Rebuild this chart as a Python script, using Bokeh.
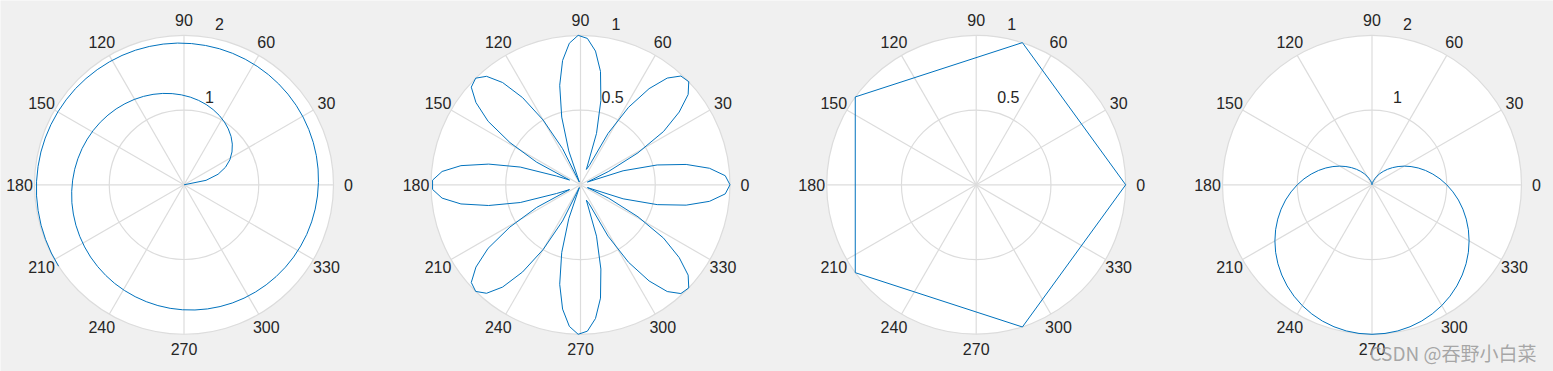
import numpy as np
from bokeh.plotting import figure
from bokeh.models import Range1d
from bokeh.core.properties import value
from bokeh.embed import file_html
from bokeh.resources import INLINE

# ---------------- data ----------------
theta_ticks = [0, 30, 60, 90, 120, 150, 180, 210, 240, 270, 300, 330]
theta_labels = ["0", "30", "60", "90", "120", "150", "180", "210", "240", "270", "300", "330"]

# panel 1: spiral (angle in degrees, cumulative over 1.6 turns)
spiral_theta = [5.7, 11.5, 17.2, 22.9, 28.6, 34.4, 40.1, 45.8, 51.6, 57.3,
                63.0, 68.8, 74.5, 80.2, 85.9, 91.7, 97.4, 103.1, 108.9, 114.6,
                120.3, 126.1, 131.8, 137.5, 143.2, 149.0, 154.7, 160.4, 166.2, 171.9,
                177.6, 183.3, 189.1, 194.8, 200.5, 206.3, 212.0, 217.7, 223.5, 229.2,
                234.9, 240.6, 246.4, 252.1, 257.8, 263.6, 269.3, 275.0, 280.7, 286.5,
                292.2, 297.9, 303.7, 309.4, 315.1, 320.9, 326.6, 332.3, 338.0, 343.8,
                349.5, 355.2, 361.0, 366.7, 372.4, 378.2, 383.9, 389.6, 395.3, 401.1,
                406.8, 412.5, 418.3, 424.0, 429.7, 435.4, 441.2, 446.9, 452.6, 458.4,
                464.1, 469.8, 475.6, 481.3, 487.0, 492.7, 498.5, 504.2, 509.9, 515.7,
                521.4, 527.1, 532.8, 538.6, 544.3, 550.0, 555.8, 561.5, 567.2, 573.0]
spiral_r = [0.000, 0.301, 0.477, 0.602, 0.699, 0.778, 0.845, 0.903, 0.954, 1.000,
            1.041, 1.079, 1.114, 1.146, 1.176, 1.204, 1.230, 1.255, 1.279, 1.301,
            1.322, 1.342, 1.362, 1.380, 1.398, 1.415, 1.431, 1.447, 1.462, 1.477,
            1.491, 1.505, 1.519, 1.531, 1.544, 1.556, 1.568, 1.580, 1.591, 1.602,
            1.613, 1.623, 1.633, 1.643, 1.653, 1.663, 1.672, 1.681, 1.690, 1.699,
            1.708, 1.716, 1.724, 1.732, 1.740, 1.748, 1.756, 1.763, 1.771, 1.778,
            1.785, 1.792, 1.799, 1.806, 1.813, 1.820, 1.826, 1.833, 1.839, 1.845,
            1.851, 1.857, 1.863, 1.869, 1.875, 1.881, 1.886, 1.892, 1.898, 1.903,
            1.908, 1.914, 1.919, 1.924, 1.929, 1.934, 1.940, 1.944, 1.949, 1.954,
            1.959, 1.964, 1.968, 1.973, 1.978, 1.982, 1.987, 1.991, 1.996, 2.000]
spiral_rticks = [1, 2]
spiral_rlabels = ["1", "2"]

# panel 2: eight-petal rose
rose_theta = [0, 3.6, 7.3, 10.9, 14.5, 18.2, 21.8, 25.5, 29.1, 32.7, 36.4, 40.0, 43.6, 47.3,
              50.9, 54.5, 58.2, 61.8, 65.5, 69.1, 72.7, 76.4, 80.0, 83.6, 87.3, 90.9, 94.5,
              98.2, 101.8, 105.5, 109.1, 112.7, 116.4, 120.0, 123.6, 127.3, 130.9, 134.5,
              138.2, 141.8, 145.5, 149.1, 152.7, 156.4, 160.0, 163.6, 167.3, 170.9, 174.5,
              178.2, 181.8, 185.5, 189.1, 192.7, 196.4, 200.0, 203.6, 207.3, 210.9, 214.5,
              218.2, 221.8, 225.5, 229.1, 232.7, 236.4, 240.0, 243.6, 247.3, 250.9, 254.5,
              258.2, 261.8, 265.5, 269.1, 272.7, 276.4, 280.0, 283.6, 287.3, 290.9, 294.5,
              298.2, 301.8, 305.5, 309.1, 312.7, 316.4, 320.0, 323.6, 327.3, 330.9, 334.5,
              338.2, 341.8, 345.5, 349.1, 352.7, 356.4, 360.0]
rose_r = [1.00, 0.97, 0.87, 0.72, 0.53, 0.30, 0.05, 0.21, 0.44, 0.66, 0.82, 0.94, 1.00, 0.99,
          0.92, 0.79, 0.61, 0.39, 0.14, 0.11, 0.36, 0.58, 0.77, 0.90, 0.98, 1.00, 0.95, 0.84,
          0.68, 0.47, 0.24, 0.02, 0.27, 0.50, 0.70, 0.86, 0.96, 1.00, 0.98, 0.89, 0.75, 0.55,
          0.33, 0.08, 0.17, 0.42, 0.63, 0.81, 0.93, 0.99, 0.99, 0.93, 0.81, 0.63, 0.42, 0.17,
          0.08, 0.33, 0.55, 0.75, 0.89, 0.98, 1.00, 0.96, 0.86, 0.70, 0.50, 0.27, 0.02, 0.24,
          0.47, 0.68, 0.84, 0.95, 1.00, 0.98, 0.90, 0.77, 0.58, 0.36, 0.11, 0.14, 0.39, 0.61,
          0.79, 0.92, 0.99, 1.00, 0.94, 0.82, 0.66, 0.44, 0.21, 0.05, 0.30, 0.53, 0.72, 0.87,
          0.97, 1.00]
rose_rticks = [0.5, 1]
rose_rlabels = ["0.5", "1"]

# panel 3: pentagon
penta_theta = [0, 72, 144, 216, 288, 360]
penta_r = [1, 1, 1, 1, 1, 1]
penta_rticks = [0.5, 1]
penta_rlabels = ["0.5", "1"]

# panel 4: cardioid
card_theta = [0, 5, 10, 15, 20, 25, 30, 35, 40, 45, 50, 55, 60, 65, 70, 75, 80, 85,
              90, 95, 100, 105, 110, 115, 120, 125, 130, 135, 140, 145, 150, 155, 160, 165, 170, 175,
              180, 185, 190, 195, 200, 205, 210, 215, 220, 225, 230, 235, 240, 245, 250, 255, 260, 265,
              270, 275, 280, 285, 290, 295, 300, 305, 310, 315, 320, 325, 330, 335, 340, 345, 350, 355,
              360]
card_r = [1.000, 0.913, 0.826, 0.741, 0.658, 0.577, 0.500, 0.426, 0.357, 0.293, 0.234, 0.181,
          0.134, 0.094, 0.060, 0.034, 0.015, 0.004,
          0.000, 0.004, 0.015, 0.034, 0.060, 0.094, 0.134, 0.181, 0.234, 0.293, 0.357, 0.426,
          0.500, 0.577, 0.658, 0.741, 0.826, 0.913,
          1.000, 1.087, 1.174, 1.259, 1.342, 1.423, 1.500, 1.574, 1.643, 1.707, 1.766, 1.819,
          1.866, 1.906, 1.940, 1.966, 1.985, 1.996,
          2.000, 1.996, 1.985, 1.966, 1.940, 1.906, 1.866, 1.819, 1.766, 1.707, 1.643, 1.574,
          1.500, 1.423, 1.342, 1.259, 1.174, 1.087,
          1.000]
card_rticks = [1, 2]
card_rlabels = ["1", "2"]

watermark = "CSDN @吞野小白菜"

# ---------------- styling / layout ----------------
W, H = 1553, 371
BG = "#f0f0f0"
GRID = "#dcdcdc"
BLUE = "#0072BD"
TXT = "#262626"
CY = 184.3        # centre of every polar axes, px from top
R_PX = 149.5      # outer radius in px
FONT = value("Liberation Sans")

panels = [
    dict(theta=spiral_theta, r=spiral_r, rticks=spiral_rticks, rlabels=spiral_rlabels, rmax=2, cx=183.5),
    dict(theta=rose_theta, r=rose_r, rticks=rose_rticks, rlabels=rose_rlabels, rmax=1, cx=580.0),
    dict(theta=penta_theta, r=penta_r, rticks=penta_rticks, rlabels=penta_rlabels, rmax=1, cx=975.7),
    dict(theta=card_theta, r=card_r, rticks=card_rticks, rlabels=card_rlabels, rmax=2, cx=1371.5),
]

p = figure(width=W, height=H, x_range=Range1d(0, W), y_range=Range1d(0, H),
           output_backend="svg", toolbar_location=None, min_border=0,
           x_axis_type=None, y_axis_type=None)
p.background_fill_color = BG
p.border_fill_color = BG
p.outline_line_color = None
p.grid.visible = False

for i, pn in enumerate(panels):
    rmax = pn["rmax"]
    s = R_PX / rmax
    name = "p%d" % i
    p.extra_x_ranges[name] = Range1d(-pn["cx"] / s, (W - pn["cx"]) / s)
    p.extra_y_ranges[name] = Range1d(-(H - CY) / s, CY / s)
    kw = dict(x_range_name=name, y_range_name=name)

    # white polar area
    p.circle(x=[0], y=[0], radius=rmax, fill_color="white", line_color=None, **kw)
    # rings
    rt = pn["rticks"]
    p.circle(x=[0] * len(rt), y=[0] * len(rt), radius=rt, fill_color=None,
             line_color=GRID, line_width=1.2, **kw)
    # spokes
    a = np.deg2rad(theta_ticks)
    p.segment(x0=np.zeros(len(a)), y0=np.zeros(len(a)),
              x1=rmax * np.cos(a), y1=rmax * np.sin(a),
              line_color=GRID, line_width=1.2, **kw)
    # data curve
    th = np.deg2rad(np.array(pn["theta"], dtype=float))
    rr = np.array(pn["r"], dtype=float)
    p.line(rr * np.cos(th), rr * np.sin(th), line_color=BLUE, line_width=1.0, **kw)

    # angle labels
    lr = rmax + 15.0 / s
    p.text(x=lr * np.cos(a), y=lr * np.sin(a), text=theta_labels,
           text_align="center", text_baseline="middle",
           text_font=FONT, text_font_size="16px", text_color=TXT, **kw)
    # radial labels near 80 degrees
    a80 = np.deg2rad(80)
    rtv = np.array(rt, dtype=float)
    p.text(x=rtv * np.cos(a80), y=rtv * np.sin(a80), text=pn["rlabels"],
           x_offset=[8, 5], y_offset=-14,
           text_align="left", text_baseline="middle",
           text_font=FONT, text_font_size="16px", text_color=TXT, **kw)

# watermark (screen-unit range of the main figure)
p.text(x=[1369], y=[H - 352], text=[watermark],
       text_align="left", text_baseline="middle",
       text_font=value("Noto Sans CJK SC"), text_font_size="19px",
       text_color="#999999", text_alpha=0.85)

open("out.html", "w").write(file_html(p, INLINE))
